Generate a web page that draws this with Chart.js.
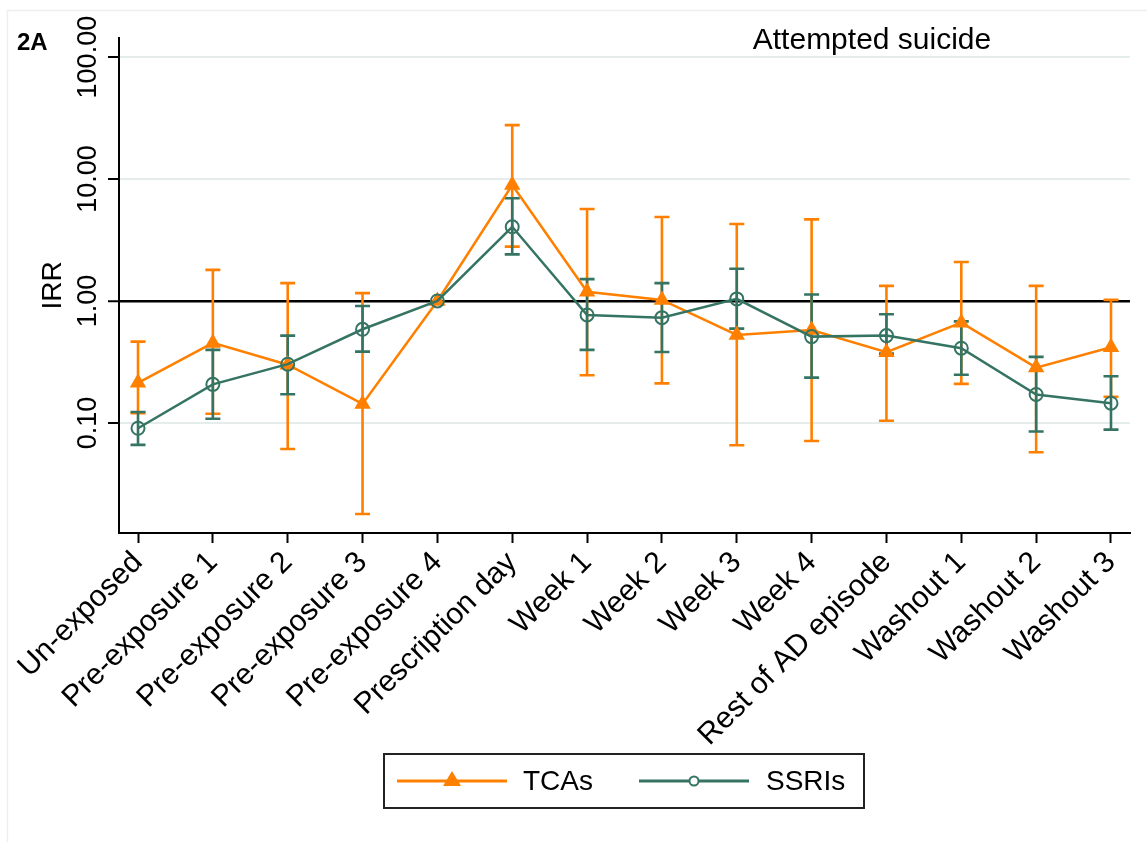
<!DOCTYPE html>
<html>
<head>
<meta charset="utf-8">
<title>Attempted suicide – IRR by exposure period</title>
<script src="https://cdn.jsdelivr.net/npm/chart.js@4.4.1/dist/chart.umd.min.js"></script>
<style>
  html, body { margin: 0; padding: 0; background: #fff; }
  canvas { display: block; }
</style>
</head>
<body>
<canvas id="chart" width="1147" height="842"></canvas>
<script>
// Exposure periods on the x axis
const categories = [
  'Un-exposed', 'Pre-exposure 1', 'Pre-exposure 2', 'Pre-exposure 3', 'Pre-exposure 4',
  'Prescription day', 'Week 1', 'Week 2', 'Week 3', 'Week 4',
  'Rest of AD episode', 'Washout 1', 'Washout 2', 'Washout 3'
];

// Incidence rate ratios with 95% confidence limits (Pre-exposure 4 is the reference period)
const tcaIRR   = [0.213, 0.453, 0.300, 0.143, 1.00, 8.93, 1.19, 1.02, 0.527, 0.578, 0.380, 0.664, 0.284, 0.417];
const tcaLower = [0.120, 0.119, 0.061, 0.0179, null, 2.79, 0.246, 0.211, 0.0656, 0.071, 0.104, 0.209, 0.0575, 0.164];
const tcaUpper = [0.464, 1.80, 1.40, 1.16, null, 27.7, 5.68, 4.88, 4.28, 4.67, 1.33, 2.09, 1.33, 1.02];

const ssriIRR   = [0.0904, 0.207, 0.303, 0.586, 1.00, 4.06, 0.768, 0.730, 1.04, 0.510, 0.520, 0.410, 0.171, 0.145];
const ssriLower = [0.066, 0.108, 0.172, 0.384, null, 2.41, 0.397, 0.382, 0.593, 0.235, 0.370, 0.248, 0.085, 0.088];
const ssriUpper = [0.123, 0.397, 0.520, 0.910, null, 6.95, 1.51, 1.40, 1.84, 1.13, 0.778, 0.680, 0.348, 0.241];

// Log-scale y axis ticks and their labels
const yTickValues = [0.1, 1, 10, 100];
const yTickLabels = ['0.10', '1.00', '10.00', '100.00'];

const seriesNames = ['TCAs', 'SSRIs'];
const panelLabel = '2A';
const panelTitle = 'Attempted suicide';
const yTitle = 'IRR';

const ORANGE = '#ff8000';
const TEAL = '#357463';
const FONT = "'Liberation Sans', Arial, Helvetica, sans-serif";

const toPoints = arr => arr.map((v, i) => ({ x: i, y: v }));

// Background and faint outer frame
const framePlugin = {
  id: 'frame',
  beforeDraw(chart) {
    const ctx = chart.ctx;
    ctx.save();
    ctx.fillStyle = '#fff';
    ctx.fillRect(0, 0, chart.width, chart.height);
    ctx.strokeStyle = '#eeeeee';
    ctx.lineWidth = 1.5;
    ctx.beginPath();
    ctx.moveTo(7.5, chart.height);
    ctx.lineTo(7.5, 10.5);
    ctx.lineTo(chart.width, 10.5);
    ctx.stroke();
    ctx.restore();
  }
};

// Confidence-interval caps drawn under the connected lines
const errorBarPlugin = {
  id: 'errorBars',
  beforeDatasetsDraw(chart) {
    const { ctx, scales: { x, y } } = chart;
    const groups = [
      { lo: tcaLower, hi: tcaUpper, color: ORANGE },
      { lo: ssriLower, hi: ssriUpper, color: TEAL }
    ];
    const capHalf = 7.5;
    ctx.save();
    ctx.lineWidth = 2.6;
    ctx.lineCap = 'butt';
    groups.forEach(g => {
      ctx.strokeStyle = g.color;
      g.lo.forEach((lo, i) => {
        const hi = g.hi[i];
        if (lo == null || hi == null) return;
        const px = x.getPixelForValue(i);
        const pLo = y.getPixelForValue(lo);
        const pHi = y.getPixelForValue(hi);
        ctx.beginPath();
        ctx.moveTo(px, pLo);
        ctx.lineTo(px, pHi);
        ctx.moveTo(px - capHalf, pLo);
        ctx.lineTo(px + capHalf, pLo);
        ctx.moveTo(px - capHalf, pHi);
        ctx.lineTo(px + capHalf, pHi);
        ctx.stroke();
      });
    });
    ctx.restore();
  }
};

// Rotated y tick labels, panel label, panel title and boxed legend
const annotationPlugin = {
  id: 'annotations',
  afterDraw(chart) {
    const { ctx, scales: { y } } = chart;
    ctx.save();
    ctx.fillStyle = '#000';

    // y tick labels, rotated to read bottom-to-top
    ctx.font = `27px ${FONT}`;
    ctx.textAlign = 'center';
    ctx.textBaseline = 'alphabetic';
    yTickValues.forEach((v, i) => {
      const py = y.getPixelForValue(v);
      ctx.save();
      ctx.translate(96, py);
      ctx.rotate(-Math.PI / 2);
      ctx.fillText(yTickLabels[i], 0, 0);
      ctx.restore();
    });

    // panel label
    ctx.font = `bold 24px ${FONT}`;
    ctx.textAlign = 'left';
    ctx.fillText(panelLabel, 17, 50);

    // panel title
    ctx.font = `30px ${FONT}`;
    ctx.textAlign = 'center';
    ctx.fillText(panelTitle, 872, 49);

    // legend box
    const bx = 384, by = 754, bw = 480, bh = 54, cy = by + bh / 2;
    ctx.strokeStyle = '#222';
    ctx.lineWidth = 2;
    ctx.strokeRect(bx, by, bw, bh);

    // TCAs key
    ctx.strokeStyle = ORANGE;
    ctx.lineWidth = 3;
    ctx.beginPath();
    ctx.moveTo(397, cy);
    ctx.lineTo(507, cy);
    ctx.stroke();
    ctx.fillStyle = ORANGE;
    ctx.beginPath();
    ctx.moveTo(452, cy - 10);
    ctx.lineTo(461, cy + 5);
    ctx.lineTo(443, cy + 5);
    ctx.closePath();
    ctx.fill();

    // SSRIs key
    ctx.strokeStyle = TEAL;
    ctx.beginPath();
    ctx.moveTo(639, cy);
    ctx.lineTo(749, cy);
    ctx.stroke();
    ctx.lineWidth = 2;
    ctx.fillStyle = '#fff';
    ctx.beginPath();
    ctx.arc(694, cy, 4.5, 0, Math.PI * 2);
    ctx.fill();
    ctx.stroke();

    ctx.fillStyle = '#000';
    ctx.font = `28px ${FONT}`;
    ctx.textAlign = 'left';
    ctx.textBaseline = 'middle';
    ctx.fillText(seriesNames[0], 523, cy + 1);
    ctx.fillText(seriesNames[1], 766, cy + 1);
    ctx.restore();
  }
};

new Chart(document.getElementById('chart'), {
  type: 'line',
  data: {
    datasets: [
      {
        label: seriesNames[0],
        data: toPoints(tcaIRR),
        borderColor: ORANGE,
        backgroundColor: ORANGE,
        borderWidth: 2.5,
        tension: 0,
        pointStyle: 'triangle',
        pointRadius: 9.5,
        pointBorderWidth: 0,
        pointBackgroundColor: ORANGE,
        order: 1
      },
      {
        label: seriesNames[1],
        data: toPoints(ssriIRR),
        borderColor: TEAL,
        backgroundColor: TEAL,
        borderWidth: 2.5,
        tension: 0,
        pointStyle: 'circle',
        pointRadius: 6.5,
        pointBorderWidth: 2,
        pointBorderColor: TEAL,
        pointBackgroundColor: 'rgba(0,0,0,0)',
        order: 0
      }
    ]
  },
  options: {
    responsive: false,
    animation: false,
    layout: { padding: { left: 0, top: 38, right: 17, bottom: 69 } },
    plugins: {
      legend: { display: false },
      tooltip: { enabled: false },
      title: { display: false }
    },
    scales: {
      x: {
        type: 'linear',
        min: -0.254,
        max: 13.254,
        afterBuildTicks: s => { s.ticks = categories.map((_, i) => ({ value: i })); },
        afterFit: s => { s.height = 240; },
        ticks: {
          autoSkip: false,
          minRotation: 45,
          maxRotation: 45,
          padding: 2,
          color: '#000',
          font: { family: FONT, size: 30 },
          callback: v => categories[v]
        },
        grid: {
          drawOnChartArea: false,
          drawTicks: true,
          tickLength: 10,
          tickColor: '#000',
          tickWidth: 2
        },
        border: { display: true, color: '#000', width: 2 }
      },
      y: {
        type: 'logarithmic',
        min: 0.0125,
        max: 143.5,
        afterBuildTicks: s => { s.ticks = yTickValues.map(v => ({ value: v })); },
        afterFit: s => { s.width = 119; },
        ticks: { display: false },
        title: {
          display: true,
          text: yTitle,
          color: '#000',
          font: { family: FONT, size: 28 },
          padding: { top: 36, bottom: 0 }
        },
        grid: {
          drawTicks: true,
          tickLength: 11,
          tickColor: '#000',
          tickWidth: 2,
          color: c => (c.tick && c.tick.value === 1 ? '#000' : '#e4ecec'),
          lineWidth: c => (c.tick && c.tick.value === 1 ? 2.5 : 2)
        },
        border: { display: true, color: '#000', width: 2 }
      }
    }
  },
  plugins: [framePlugin, errorBarPlugin, annotationPlugin]
});
</script>
</body>
</html>
